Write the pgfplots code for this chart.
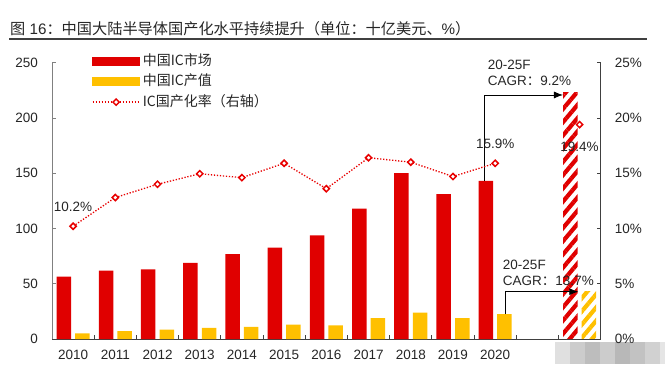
\documentclass[border=0pt]{standalone}
\usepackage{pgfplots}
\pgfplotsset{compat=1.18}
\usepackage{fontspec}
\setmainfont{Liberation Sans}
\newfontfamily\cjk{Noto Sans CJK SC}
\usetikzlibrary{patterns.meta,arrows.meta}
\definecolor{icred}{RGB}{224,0,0}
\definecolor{icyel}{RGB}{255,192,0}
\definecolor{linered}{RGB}{232,0,0}
\definecolor{txt}{RGB}{38,38,38}
\definecolor{axgray}{RGB}{128,128,128}
\definecolor{axdark}{RGB}{64,64,64}
\pgfplotsset{linelegend/.style={legend image code/.code={\draw[mark repeat=2,mark phase=2,##1] plot coordinates {(0bp,0bp) (23.5bp,0bp) (47bp,0bp)};}}}

\begin{document}
\begin{tikzpicture}
\path[use as bounding box] (0bp,0bp) rectangle (665bp,370bp);
% title
\node[anchor=west,inner sep=0pt,font=\fontsize{15.2bp}{17bp}\selectfont,text=txt] at (10bp,341bp)
  {{\cjk 图}\ 16{\cjk ：中国大陆半导体国产化水平持续提升（单位：十亿美元、}\%{\cjk ）}};
\draw[line width=2bp,color=axdark] (9bp,330.5bp) -- (647bp,330.5bp);
% mosaic (blurred label area)
\foreach \i/\g in {0/12,1/20,2/26,3/20,4/28,5/24,6/18,7/10}{
  \fill[black!\g!white] ({(555+15*\i)*1bp},6bp) rectangle ({(570+15*\i)*1bp},28bp);
}

\begin{axis}[
  at={(52bp,31bp)}, anchor=south west, scale only axis,
  width=548.7bp, height=276.3bp,
  xmin=-0.5, xmax=12.5, ymin=0, ymax=250,
  axis x line*=bottom, axis y line*=left,
  clip=false,
  xtick={0,...,10},
  xticklabels={2010,2011,2012,2013,2014,2015,2016,2017,2018,2019,2020},
  minor xtick={0.5,1.5,...,11.5},
  major x tick style={draw=none},
  minor x tick style={draw=axdark,line width=0.8bp},
  minor tick length=4bp,
  major tick length=4bp,
  tick align=inside,
  ytick={0,50,...,250},
  y tick style={draw=axgray,line width=0.8bp},
  y axis line style={draw=axgray,line width=1bp},
  x axis line style={draw=axdark,line width=1bp},
  ticklabel style={font=\fontsize{13.5bp}{16bp}\selectfont,text=txt},
  /pgf/number format/assume math mode=true,
  yticklabel style={anchor=east,inner sep=0pt,xshift=-14bp},
  xticklabel style={anchor=north,inner sep=0pt,yshift=-11bp},
]
\addplot[ybar,bar width=14.5bp,bar shift=-9.3bp,fill=icred,draw=none] coordinates {
 (0,56.4) (1,61.9) (2,63.1) (3,68.8) (4,76.7) (5,82.7) (6,93.8) (7,118) (8,150) (9,131) (10,143.1)};
\addplot[ybar,bar width=14.5bp,bar shift=9.3bp,fill=icyel,draw=none] coordinates {
 (0,5.2) (1,7.2) (2,8.5) (3,10.0) (4,10.9) (5,13.0) (6,12.4) (7,19.0) (8,23.8) (9,19.0) (10,22.4)};
\addplot[ybar,bar width=14.5bp,bar shift=-9.3bp,draw=none,
  pattern={Lines[angle=50,distance=8.5bp,line width=4.2bp]},pattern color=icred] coordinates {(12,223)};
\addplot[ybar,bar width=14.5bp,bar shift=9.3bp,draw=none,
  pattern={Lines[angle=50,distance=8.5bp,line width=4.2bp]},pattern color=icyel] coordinates {(12,43)};
% CAGR annotations
\draw[black,line width=0.8bp,-{Latex[length=9bp,width=7bp]}] (axis cs:9.742,143.1) |- (axis cs:11.606,220.8);
\draw[black,line width=0.8bp,-{Latex[length=9bp,width=7bp]}] (axis cs:10.249,22.4) |- (axis cs:11.97,42.8);
\node[anchor=north west,inner sep=0pt,align=left,font=\fontsize{13.5bp}{15.7bp}\selectfont,text=txt]
  at (axis cs:9.82,252.4) {20-25F\\CAGR{\cjk ：}9.2\%};
\node[anchor=north west,inner sep=0pt,align=left,font=\fontsize{13.5bp}{15.7bp}\selectfont,text=txt]
  at (axis cs:10.18,71.5) {20-25F\\CAGR{\cjk ：}13.7\%};
\end{axis}

\begin{axis}[
  at={(52bp,31bp)}, anchor=south west, scale only axis,
  width=548.7bp, height=276.3bp,
  xmin=-0.5, xmax=12.5, ymin=0, ymax=25,
  axis y line*=right, axis x line=none,
  clip=false,
  ytick={0,5,...,25},
  yticklabel={\pgfmathprintnumber{\tick}\%},
  tick align=inside,
  major tick length=4bp,
  y tick style={draw=axdark,line width=0.8bp},
  y axis line style={draw=axdark,line width=1bp},
  ticklabel style={font=\fontsize{13.5bp}{16bp}\selectfont,text=txt},
  /pgf/number format/assume math mode=true,
  yticklabel style={anchor=west,inner sep=0pt,xshift=14bp},
  legend style={at={(0.0729,1.031)},anchor=north west,draw=none,fill=none,
    inner sep=0pt,outer sep=0pt,row sep=6.5bp,
    font=\cjk\fontsize{14bp}{16bp}\selectfont,text=txt,
    nodes={inner xsep=2.5bp,inner ysep=0pt,text height=11bp,text depth=3bp}},
  legend cell align=left,
]
\addlegendimage{legend image code/.code={\fill[icred] (0bp,-4bp) rectangle (47bp,4bp);}}
\addlegendimage{legend image code/.code={\fill[icyel] (0bp,-4bp) rectangle (47bp,4bp);}}
\addplot[linered,line width=1.3bp,dash pattern=on 1.3bp off 1.7bp,
  mark=square*,mark size=2.2bp,mark options={solid,fill=white,rotate=45,line width=1.5bp},
  linelegend]
  coordinates {(0,10.2) (1,12.8) (2,14.0) (3,14.95) (4,14.6) (5,15.9) (6,13.6) (7,16.4) (8,16.0) (9,14.7) (10,15.9)};
\addplot[forget plot,only marks,linered,mark=square*,mark size=2.2bp,
  mark options={solid,fill=white,rotate=45,line width=1.5bp}] coordinates {(12,19.4)};
\legend{中国IC市场,中国IC产值,IC国产化率（右轴）}
\node[font=\fontsize{13.5bp}{16bp}\selectfont,text=txt] at (axis cs:0,11.94) {10.2\%};
\node[font=\fontsize{13.5bp}{16bp}\selectfont,text=txt] at (axis cs:10,17.64) {15.9\%};
\node[font=\fontsize{13.5bp}{16bp}\selectfont,text=txt] at (axis cs:12,17.4) {19.4\%};
\end{axis}
\end{tikzpicture}
\end{document}
